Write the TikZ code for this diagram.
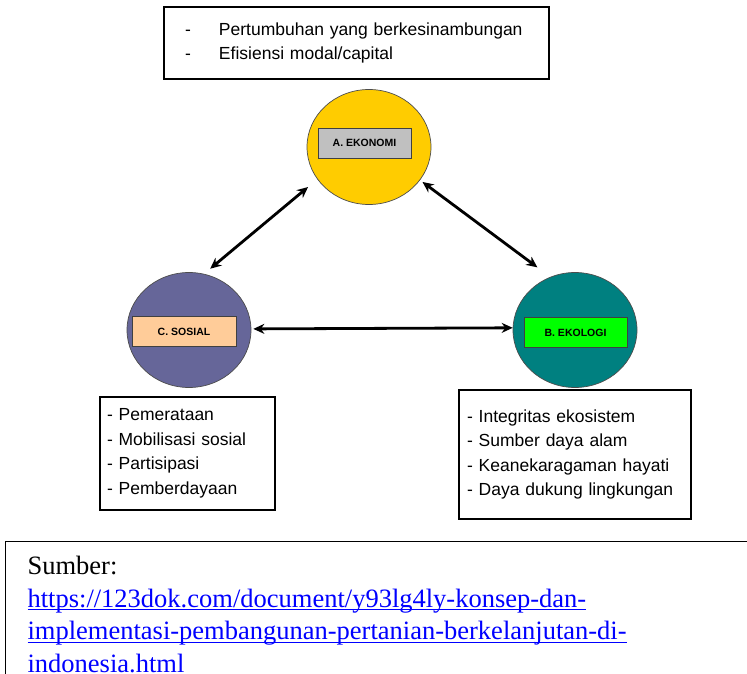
\documentclass[tikz,border=0pt]{standalone}
\usepackage{fontspec}
\setmainfont{Liberation Serif}
\setsansfont{Liberation Sans}
\usetikzlibrary{shapes.geometric,arrows.meta}

\definecolor{ekoyellow}{RGB}{255,204,0}
\definecolor{ekogray}{RGB}{192,192,192}
\definecolor{sosblue}{RGB}{102,102,153}
\definecolor{sospeach}{RGB}{255,204,153}
\definecolor{ekoteal}{RGB}{0,128,128}
\definecolor{ekogreen}{RGB}{0,255,0}
\definecolor{urlblue}{RGB}{0,0,255}

\newcommand{\listfont}{\sffamily\fontsize{17.5}{24.5}\selectfont}
\newcommand{\ulink}[1]{\setbox0\hbox{#1}\rlap{\rule[-3pt]{\wd0}{1.2pt}}\box0}

\tikzset{
  pillar/.style={ellipse, draw=black!70, line width=0.7pt, inner sep=0pt,
    minimum width=124pt, minimum height=115pt},
  tag/.style={rectangle, draw=black!75, line width=0.8pt, inner sep=0pt,
    minimum height=30pt, font=\sffamily\bfseries\fontsize{10.5}{12}\selectfont},
  listbox/.style={rectangle, draw, line width=1.2pt, align=left, font=\listfont,
    inner ysep=0pt},
  link/.style={<->, >={Stealth[length=11pt,width=10pt]}, line width=2.8pt}
}

\begin{document}
\begin{tikzpicture}[x=1pt,y=1pt]
    \useasboundingbox (0,0) rectangle (747,673);
    \clip (0,0) rectangle (747,673);
    % the three pillars
    \foreach \n/\cx/\cy/\cc/\lx/\ly/\lw/\lc/\t in {
        ekonomi/369/526/ekoyellow/364.5/530/93/ekogray/A. EKONOMI,
        sosial/189/343/sosblue/184/341.5/104/sospeach/C. SOSIAL,
        ekologi/575/343/ekoteal/575.5/340.5/103/ekogreen/B. EKOLOGI} {
      \node[pillar, fill=\cc] at (\cx,\cy) (c-\n) {};
      \node[tag, fill=\lc, minimum width=\lw] at (\lx,\ly) (l-\n) {\t};
    }
    % the lists
    \node[listbox, minimum height=72pt, inner xsep=21pt, text width=343pt]
      at (356.5,630) (b-ekonomi)
      {\makebox[34pt][l]{-}Pertumbuhan yang berkesinambungan\\
       \makebox[34pt][l]{-}Efisiensi modal/capital};
    \node[listbox, minimum height=113pt, inner xsep=7pt, text width=161pt]
      at (187.5,219.5) (b-sosial)
      {- Pemerataan\\- Mobilisasi sosial\\- Partisipasi\\- Pemberdayaan};
    \node[listbox, minimum height=129pt, inner xsep=8pt, text width=216pt]
      at (575,218.5) (b-ekologi)
      {- Integritas ekosistem\\- Sumber daya alam\\- Keanekaragaman hayati\\- Daya dukung lingkungan};
    % links between pillars
    \draw[link, shorten <=12pt, shorten >=8pt] (c-ekonomi.212) -- (c-sosial.75);
    \draw[link, shorten <=3pt, shorten >=16pt] (c-ekonomi.327) -- (c-ekologi.115);
    \draw[link, shorten <=2pt] (c-sosial.1) -- (c-ekologi.178);
    % source
    \node[draw, line width=1.2pt, anchor=north west, align=left,
      inner xsep=22pt, inner ysep=15pt, text width=760pt,
      font=\fontsize{26.5}{32.5}\selectfont] at (5,132) (b-sumber)
      {Sumber:\\
       \textcolor{urlblue}{\ulink{https://123dok.com/document/y93lg4ly-konsep-dan-}}\\
       \textcolor{urlblue}{\ulink{implementasi-pembangunan-pertanian-berkelanjutan-di-}}\\
       \textcolor{urlblue}{\ulink{indonesia.html}}};
\end{tikzpicture}
\end{document}
